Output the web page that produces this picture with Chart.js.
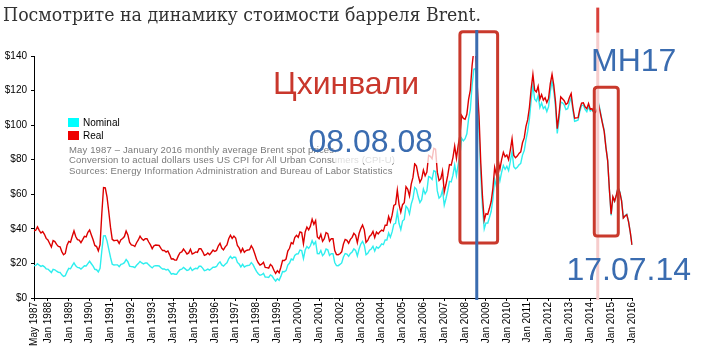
<!DOCTYPE html>
<html><head><meta charset="utf-8">
<script src="https://cdn.jsdelivr.net/npm/chart.js@4.4.1/dist/chart.umd.min.js"></script>
<style>
html,body{margin:0;padding:0;background:#fff;}
#wrap{position:relative;width:710px;height:364px;overflow:hidden;background:#fff;}
#c{position:absolute;left:0;top:0;}
.t{position:absolute;white-space:nowrap;}
#title{left:3px;top:6px;font-family:"DejaVu Serif",serif;font-size:18px;line-height:18px;color:#333;transform-origin:0 0;}
.big{font-family:"Liberation Sans",Arial,sans-serif;font-size:32px;line-height:32px;}
.blue{color:#3a6cb0;}
.red{color:#c9372c;}
#note{left:69px;top:144.5px;font-family:"Liberation Sans",Arial,sans-serif;font-size:9.5px;line-height:10.5px;color:#7a7a7a;letter-spacing:0.15px;}
.lg{position:absolute;font-family:"Liberation Sans",Arial,sans-serif;font-size:10px;line-height:10px;color:#000;white-space:nowrap;}
.sq{position:absolute;width:11px;height:9px;}
#fade{position:absolute;left:335px;top:143px;width:110px;height:20px;background:rgba(255,255,255,0.75);}
</style></head>
<body>
<div id="wrap">
<canvas id="c" width="710" height="364"></canvas>
<div id="title" class="t">Посмотрите на динамику стоимости барреля Brent.</div>
<div id="note" class="t">May 1987 – January 2016 monthly average Brent spot prices.<br>Conversion to actual dollars uses US CPI for All Urban Consumers (CPI-U)<br>Sources: Energy Information Administration and Bureau of Labor Statistics</div>
<div id="legend"></div>
<div id="fade"></div>
<div class="t big red" style="left:273px;top:67px;">Цхинвали</div>
<div class="t big blue" style="left:308.5px;top:125px;">08.08.08</div>
<div class="t big blue" style="left:591px;top:44px;">MH17</div>
<div class="t big blue" style="left:566.5px;top:253px;">17.07.14</div>
</div>
<script>
// ---- data (USD per barrel) ----
const monthNames = ['Jan','Feb','Mar','Apr','May','Jun','Jul','Aug','Sep','Oct','Nov','Dec'];
const seriesNames = ['Nominal','Real'];
const seriesColors = ['#2eeeee','#dd0000'];
const yTickValues = [0,20,40,60,80,100,120,140];

const nominal = [
// 1987 May-Dec
18.58,18.86,19.86,18.98,18.31,18.76,18.04,16.88,
// 1988
16.74,15.73,14.73,16.60,16.31,15.50,14.91,14.79,13.40,12.49,12.87,15.27,
// 1989
17.16,16.89,18.70,20.32,18.63,17.67,17.51,16.75,17.67,18.67,18.52,19.89,
// 1990
21.25,19.81,18.39,16.61,16.35,15.10,17.17,27.17,35.92,36.02,33.07,28.27,
// 1991
23.57,19.54,19.08,19.18,19.19,18.17,19.40,19.77,20.45,22.30,21.00,18.46,
// 1992
18.16,18.05,17.63,18.92,19.89,21.16,20.25,19.74,20.28,20.29,19.17,18.18,
// 1993
17.42,18.44,18.70,18.63,18.54,17.50,16.74,16.77,16.17,16.58,15.32,13.78,
// 1994
14.18,13.75,13.72,15.22,16.38,16.67,17.71,16.85,15.93,16.31,17.63,15.88,
// 1995
16.66,17.16,16.97,18.36,18.35,17.29,15.86,16.13,16.73,16.13,16.94,17.84,
// 1996
17.82,18.23,19.90,20.94,19.13,18.43,19.57,20.36,22.69,24.05,22.85,23.72,
// 1997
23.53,20.56,19.64,17.98,19.46,17.94,18.60,18.80,18.97,20.45,19.30,17.31,
// 1998
15.45,14.02,13.13,13.46,14.23,12.16,12.08,11.91,13.34,12.70,11.05,9.82,
// 1999
11.12,10.27,12.51,15.29,15.23,15.86,19.08,20.22,22.54,22.01,24.59,25.47,
// 2000
25.51,27.78,27.49,22.76,27.74,29.80,28.68,30.20,33.14,30.96,32.55,25.66,
// 2001
25.62,27.50,24.50,25.66,28.31,27.85,24.61,25.68,25.62,20.54,18.80,18.71,
// 2002
19.42,20.28,23.70,25.73,25.35,24.08,25.74,26.65,28.40,27.54,24.34,28.33,
// 2003
31.18,32.77,30.61,25.00,25.86,27.65,28.35,29.89,27.11,29.61,28.75,29.81,
// 2004
31.28,30.86,33.63,33.59,37.57,35.18,38.22,42.74,43.20,49.78,43.11,39.60,
// 2005
44.51,45.48,53.10,51.88,48.65,54.35,57.52,63.98,62.91,58.54,55.24,56.86,
// 2006
62.99,60.21,62.06,70.26,69.78,68.56,73.67,73.23,61.96,57.81,58.76,62.47,
// 2007
53.68,57.56,62.05,67.49,67.21,71.05,76.93,70.76,77.17,82.34,92.41,90.93,
// 2008
92.18,94.99,103.64,109.07,122.80,132.32,132.72,113.24,97.23,71.58,52.45,39.95,
// 2009
43.44,43.32,46.54,50.18,57.30,68.61,64.44,72.51,67.65,72.77,76.66,74.46,
// 2010
76.17,73.75,78.83,84.82,75.95,74.76,75.58,77.04,77.84,82.67,85.28,91.45,
// 2011
96.52,103.72,114.64,123.26,114.99,113.83,116.97,110.22,112.83,109.55,110.77,107.87,
// 2012
110.69,119.33,125.45,119.75,110.34,95.16,102.62,113.36,112.86,111.71,109.06,109.49,
// 2013
112.96,116.05,108.47,102.25,102.56,102.92,107.93,111.28,111.60,109.08,107.79,110.76,
// 2014
108.12,108.90,107.48,107.76,109.54,111.80,106.77,101.61,97.09,87.43,79.44,62.34,
// 2015
47.76,58.10,55.89,59.52,64.08,61.48,56.56,46.52,47.62,48.43,44.27,38.01,
// 2016 Jan
30.70
];

const real = [
// 1987 May-Dec
38.78,39.19,41.15,39.16,37.59,38.40,36.86,34.49,
// 1988
33.53,31.51,29.50,33.25,32.67,31.05,29.86,29.62,26.84,25.02,25.78,30.59,
// 1989
32.78,32.26,35.72,38.81,35.58,33.75,33.44,31.99,33.75,35.66,35.37,37.99,
// 1990
39.31,36.45,33.65,30.40,29.76,27.33,30.91,48.63,63.94,63.76,58.53,50.04,
// 1991
40.99,33.98,33.18,33.35,33.37,31.60,33.74,34.38,35.56,38.78,36.52,32.10,
// 1992
30.67,30.49,29.78,31.96,33.59,35.74,34.20,33.34,34.25,34.27,32.38,30.71,
// 1993
28.55,30.22,30.65,30.53,30.39,28.68,27.44,27.49,26.50,27.17,25.11,22.59,
// 1994
22.67,21.99,21.94,24.34,26.19,26.66,28.32,26.94,25.47,26.08,28.19,25.39,
// 1995
25.89,26.67,26.37,28.53,28.52,26.87,24.65,25.07,26.00,25.07,26.32,27.72,
// 1996
26.91,27.53,30.05,31.62,28.89,27.83,29.55,30.74,34.26,36.32,34.50,35.82,
// 1997
34.73,30.35,28.99,26.54,28.72,26.48,27.45,27.75,28.00,30.18,28.49,25.55,
// 1998
22.45,20.37,19.08,19.56,20.68,17.67,17.55,17.30,19.38,18.45,16.06,14.27,
// 1999
15.81,14.60,17.79,21.74,21.66,22.55,27.13,28.75,32.05,31.30,34.97,36.22,
// 2000
35.10,38.23,37.83,31.32,38.17,41.00,39.46,41.56,45.60,42.60,44.79,35.31,
// 2001
34.28,36.80,32.78,34.33,37.88,37.26,32.93,34.36,34.28,27.48,25.15,25.03,
// 2002
25.58,26.71,31.21,33.89,33.39,31.71,33.90,35.10,37.40,36.27,32.06,37.31,
// 2003
40.16,42.21,39.43,32.20,33.31,35.61,36.51,38.50,34.92,38.14,37.03,38.40,
// 2004
39.23,38.70,42.17,42.12,47.11,44.12,47.93,53.60,54.17,62.42,54.06,49.66,
// 2005
53.99,55.17,64.41,62.93,59.01,65.93,69.77,77.61,76.31,71.01,67.01,68.97,
// 2006
74.01,70.75,72.92,82.56,81.99,80.56,86.56,86.05,72.80,67.93,69.04,73.40,
// 2007
61.36,65.79,70.92,77.14,76.82,81.21,87.93,80.88,88.20,94.11,105.62,103.93,
// 2008
103.43,106.29,114.94,120.30,134.34,143.30,142.94,122.41,105.30,78.31,58.48,45.02,
// 2009
48.74,48.39,51.89,55.80,63.60,75.61,71.14,79.83,74.48,80.05,84.25,81.68,
// 2010
82.72,80.09,85.61,92.11,82.48,81.19,82.08,83.67,84.53,89.78,92.61,99.31,
// 2011
103.18,110.36,121.06,129.42,120.28,119.18,122.47,115.07,117.68,114.48,115.87,113.05,
// 2012
115.45,123.98,129.34,123.10,113.54,98.01,105.90,116.31,115.23,114.17,112.01,112.77,
// 2013
116.01,118.26,110.21,103.99,104.20,104.36,109.44,112.73,112.94,110.61,109.51,112.53,
// 2014
109.20,109.55,107.37,107.33,108.77,110.79,105.92,101.00,96.41,86.99,79.44,62.71,
// 2015
48.43,58.62,56.06,59.58,63.82,61.05,56.16,46.24,47.43,48.24,44.18,38.09,
// 2016 Jan
30.70
];

// month categories May 1987 .. Jan 2016
const categories = [];
for (let y = 1987, m = 4; categories.length < nominal.length; ) {
  categories.push(monthNames[m] + ' ' + y);
  m++; if (m === 12) { m = 0; y++; }
}

// annotation anchors (category index / dollar value)
const iAug2008 = categories.indexOf('Aug 2008');
const annos = {
  blueLine: {x: iAug2008 - 0.3, y0: 155, y1: -1.2},
  redLine: {x: 324.3, y0: 168, yMid: 153.5, y1: -1.2},
  box1: {x0: 245, x1: 266.7, y0: 154, y1: 31.8},
  box2: {x0: 322.3, x1: 336.1, y0: 121.9, y1: 35.9}
};

// legend (HTML)
const legend = document.getElementById('legend');
seriesNames.forEach((n, k) => {
  const top = 118 + k * 13.2;
  const s = document.createElement('div'); s.className = 'sq';
  s.style.left = '68px'; s.style.top = top + 'px'; s.style.background = k === 0 ? '#00ffff' : '#ee0000';
  legend.appendChild(s);
  const t = document.createElement('div'); t.className = 'lg'; t.textContent = n;
  t.style.left = '83px'; t.style.top = (top - 0.5) + 'px';
  legend.appendChild(t);
});

// fit title width
const title = document.getElementById('title');
const w = title.getBoundingClientRect().width;
title.style.transform = 'scaleX(' + (478 / w) + ')';

function roundRect(ctx, x, y, w, h, r) {
  ctx.beginPath();
  ctx.moveTo(x + r, y); ctx.lineTo(x + w - r, y); ctx.quadraticCurveTo(x + w, y, x + w, y + r);
  ctx.lineTo(x + w, y + h - r); ctx.quadraticCurveTo(x + w, y + h, x + w - r, y + h);
  ctx.lineTo(x + r, y + h); ctx.quadraticCurveTo(x, y + h, x, y + h - r);
  ctx.lineTo(x, y + r); ctx.quadraticCurveTo(x, y, x + r, y); ctx.closePath();
}

const annoPlugin = {
  id: 'annos',
  afterDraw(chart) {
    const ctx = chart.ctx, xs = chart.scales.x, ys = chart.scales.y;
    ctx.save();
    // red/pink MH17 line
    const rx = xs.getPixelForValue(annos.redLine.x);
    ctx.lineWidth = 3;
    ctx.strokeStyle = '#f6cccc';
    ctx.beginPath(); ctx.moveTo(rx, ys.getPixelForValue(annos.redLine.yMid)); ctx.lineTo(rx, ys.getPixelForValue(annos.redLine.y1)); ctx.stroke();
    ctx.strokeStyle = '#d9403a';
    ctx.beginPath(); ctx.moveTo(rx, ys.getPixelForValue(annos.redLine.y0)); ctx.lineTo(rx, ys.getPixelForValue(annos.redLine.yMid)); ctx.stroke();
    // boxes
    ctx.strokeStyle = '#c9392c'; ctx.lineWidth = 3;
    [annos.box1, annos.box2].forEach(b => {
      const x0 = xs.getPixelForValue(b.x0), x1 = xs.getPixelForValue(b.x1);
      const y0 = ys.getPixelForValue(b.y0), y1 = ys.getPixelForValue(b.y1);
      roundRect(ctx, x0, y0, x1 - x0, y1 - y0, 3); ctx.stroke();
    });
    // blue line
    const bx = xs.getPixelForValue(annos.blueLine.x);
    ctx.strokeStyle = '#3a6cb0'; ctx.lineWidth = 3;
    ctx.beginPath(); ctx.moveTo(bx, ys.getPixelForValue(annos.blueLine.y0)); ctx.lineTo(bx, ys.getPixelForValue(annos.blueLine.y1)); ctx.stroke();
    ctx.restore();
  }
};

const axisFont = {family: '"Liberation Sans", Arial, sans-serif', size: 10};

new Chart(document.getElementById('c'), {
  type: 'line',
  data: {
    labels: categories,
    datasets: [
      {label: seriesNames[0], data: nominal, borderColor: seriesColors[0], backgroundColor: seriesColors[0], borderWidth: 1.4, pointRadius: 0, tension: 0, order: 2},
      {label: seriesNames[1], data: real, borderColor: seriesColors[1], backgroundColor: seriesColors[1], borderWidth: 1.4, pointRadius: 0, tension: 0, order: 1}
    ]
  },
  options: {
    responsive: false,
    animation: false,
    devicePixelRatio: 1,
    layout: {padding: {top: 56, right: 78, left: 0, bottom: 0}},
    plugins: {legend: {display: false}, tooltip: {enabled: false}},
    scales: {
      x: {
        type: 'category',
        offset: false,
        afterFit(s) { s.height = 66; },
        border: {display: true, color: '#000', width: 1},
        grid: {display: true, drawOnChartArea: false, drawTicks: true, tickLength: 3, color: '#000'},
        ticks: {
          autoSkip: false, minRotation: 90, maxRotation: 90, padding: 1,
          color: '#000', font: axisFont,
          callback(v, i) { const l = categories[v]; return (i === 0 || l.startsWith('Jan')) ? l : null; }
        }
      },
      y: {
        min: 0, max: 140,
        afterFit(s) { s.width = 34; },
        afterBuildTicks(s) { s.ticks = yTickValues.map(v => ({value: v})); },
        border: {display: true, color: '#000', width: 1},
        grid: {display: true, drawOnChartArea: false, drawTicks: true, tickLength: 3, color: '#000'},
        ticks: {padding: 4, color: '#000', font: axisFont, callback: v => '$' + v}
      }
    }
  },
  plugins: [annoPlugin]
});
</script>
</body></html>
